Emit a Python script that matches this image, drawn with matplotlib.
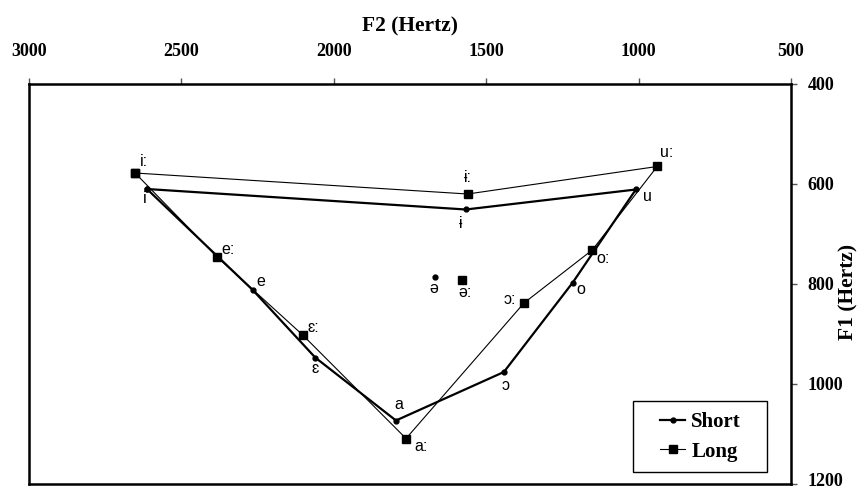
import matplotlib
matplotlib.use("Agg")
import matplotlib.pyplot as plt
from matplotlib.patches import Rectangle
from matplotlib.transforms import offset_copy

# vowel formants (Hz)
short_vowels = ["i", "e", "ɛ", "a", "ɔ", "o", "u", "ɨ"]
short_f2 = [2613, 2266, 2061, 1796, 1442, 1216, 1009, 1567]
short_f1 = [610, 812, 947, 1073, 976, 797, 611, 651]

long_vowels = ["i:", "e:", "ɛ:", "a:", "ɔ:", "o:", "u:", "ɨ:"]
long_f2 = [2652, 2383, 2102, 1763, 1376, 1152, 939, 1561]
long_f1 = [578, 746, 902, 1109, 838, 732, 565, 620]

schwa_short = ("ə", 1668, 785)
schwa_long = ("ə:", 1578, 791)

# label offsets in pixels (dx, dy up)
short_offsets = [(-2, -10), (8, 9), (0, -11), (3, 16), (2, -13), (8, -7), (12, -7), (-5, -14)]
long_offsets = [(9, 11), (11, 7), (11, 7), (15, -8), (-14, 4), (11, -9), (9, 14), (0, 16)]

fig = plt.figure(figsize=(8.59, 4.91), dpi=100)
ax = fig.add_axes([29 / 859, 1 - 484 / 491, 762 / 859, 400 / 491])

ax.plot(short_f2 + short_f2[:1], short_f1 + short_f1[:1], color="black",
        lw=1.6, marker="o", ms=3.5, label="Short")
ax.plot(long_f2 + long_f2[:1], long_f1 + long_f1[:1], color="black",
        lw=0.8, marker="s", ms=5.5, label="Long")
ax.plot([schwa_short[1]], [schwa_short[2]], "ko", ms=3.5)
ax.plot([schwa_long[1]], [schwa_long[2]], "ks", ms=5.5)

label_font = dict(family="Liberation Sans", fontsize=11.5, ha="center", va="center")
for name, x, y, off in zip(short_vowels, short_f2, short_f1, short_offsets):
    ax.annotate(name, (x, y), xytext=off, textcoords="offset pixels", **label_font)
for name, x, y, off in zip(long_vowels, long_f2, long_f1, long_offsets):
    ax.annotate(name, (x, y), xytext=off, textcoords="offset pixels", **label_font)
ax.annotate(schwa_short[0], schwa_short[1:], xytext=(-1, -12),
            textcoords="offset pixels", **label_font)
ax.annotate(schwa_long[0], schwa_long[1:], xytext=(3, -13),
            textcoords="offset pixels", **label_font)

ax.set_xlim(3000, 500)
ax.set_ylim(1200, 400)
ax.set_xticks([3000, 2500, 2000, 1500, 1000, 500])
ax.set_yticks([400, 600, 800, 1000, 1200])
ax.xaxis.tick_top()
ax.yaxis.tick_right()
ax.tick_params(direction="out", length=4, width=1, color="#555555")
ax.tick_params(axis="x", pad=13)
ax.tick_params(axis="y", pad=8)
for lab in ax.get_xticklabels() + ax.get_yticklabels():
    lab.set_family("Liberation Serif")
    lab.set_fontweight("bold")
    lab.set_fontsize(13)
for sp in ax.spines.values():
    sp.set_linewidth(1.8)

# nudge the bottom label up a little so it stays inside the image
last = ax.yaxis.get_major_ticks()[-1].label2
last.set_transform(offset_copy(last.get_transform(), fig=fig, y=4, units="dots"))

fig.text(410 / 859, 1 - 26 / 491, "F2 (Hertz)", ha="center", va="center",
         family="Liberation Serif", fontweight="bold", fontsize=15.5)
fig.text(848 / 859, 1 - 292 / 491, "F1 (Hertz)", ha="center", va="center",
         rotation=90, family="Liberation Serif", fontweight="bold", fontsize=15.5)

# legend box drawn separately so its padding matches the original
ax.add_patch(Rectangle((633 / 859, 1 - 472 / 491), 134 / 859, 71 / 491,
                       transform=fig.transFigure, facecolor="white",
                       edgecolor="black", lw=1.0, zorder=4))
ax.legend(loc="center left", bbox_to_anchor=(660 / 859, 1 - 437 / 491),
          bbox_transform=fig.transFigure, frameon=False,
          handlelength=1.2, handletextpad=0.3,
          prop={"family": "Liberation Serif", "weight": "bold", "size": 15},
          borderpad=0, labelspacing=0.45, borderaxespad=0)

fig.savefig("out.png", dpi=100)
